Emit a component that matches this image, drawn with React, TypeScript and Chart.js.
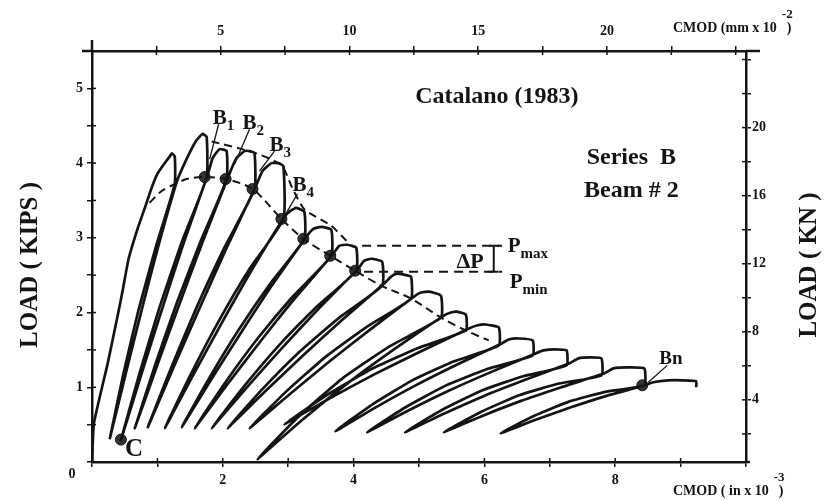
import { useEffect, useRef } from "react";
import { Chart, registerables } from "chart.js";

Chart.register(...registerables);

type Pt = [number, number];

// ---- axis tick labels ----
const inchTickLabels = [2, 4, 6, 8]; // CMOD (in x 10^-3), bottom
const mmTickLabels = [5, 10, 15, 20]; // CMOD (mm x 10^-2), top
const kipTickLabels = [1, 2, 3, 4, 5]; // LOAD (KIPS), left
const knTickLabels = [4, 8, 12, 16, 20]; // LOAD (KN), right

// ---- load–CMOD record (x: CMOD in x10^-3, y: load kips) ----
const initialLoading: Pt[] = [
  [0, 0], [0.03, 0.52], [0.24, 1.32], [0.4, 1.99], [0.47, 2.3], [0.56, 2.72], [0.7, 3.13],
  [0.8, 3.38], [0.9, 3.64], [0.99, 3.84], [1.08, 3.96], [1.19, 4.09], [1.22, 4.13],
  [1.265, 4.09], [1.265, 3.72],
];
const cycle01: Pt[] = [
  [0.976, 2.88], [0.71, 2.03], [0.48, 1.18], [0.274, 0.32],
  [0.512, 1.17], [0.755, 2.02], [1.008, 2.87], [1.296, 3.75],
  [1.433, 4.03], [1.585, 4.29], [1.69, 4.39], [1.753, 4.35], [1.753, 3.81],
];
const cycle02: Pt[] = [
  [1.373, 2.945], [1.032, 2.069], [0.726, 1.185], [0.442, 0.293],
  [0.756, 1.176], [1.075, 2.057], [1.404, 2.936], [1.768, 3.84],
  [1.845, 4.067], [1.951, 4.187], [2.058, 4.16], [2.058, 3.787],
];
const cycle03: Pt[] = [
  [1.667, 2.966], [1.3, 2.138], [0.966, 1.3], [0.655, 0.453],
  [0.996, 1.29], [1.342, 2.125], [1.697, 2.957], [2.088, 3.827],
  [2.21, 4.067], [2.332, 4.16], [2.409, 4.16], [2.485, 4.133], [2.485, 3.653],
];
const cycle04: Pt[] = [
  [2.026, 2.872], [1.606, 2.082], [1.218, 1.279], [0.854, 0.467],
  [1.248, 1.267], [1.648, 2.065], [2.056, 2.861], [2.5, 3.68],
  [2.607, 3.893], [2.744, 4.0], [2.851, 4.0], [2.927, 3.96], [2.927, 3.253],
];
const cycle05: Pt[] = [
  [2.403, 2.576], [1.938, 1.886], [1.512, 1.176], [1.113, 0.453],
  [1.545, 1.16], [1.985, 1.863], [2.436, 2.56], [2.942, 3.28],
  [3.034, 3.36], [3.125, 3.4], [3.247, 3.347], [3.247, 2.987],
];
const cycle06: Pt[] = [
  [2.721, 2.382], [2.238, 1.763], [1.792, 1.122], [1.372, 0.467],
  [1.823, 1.104], [2.283, 1.737], [2.753, 2.364], [3.277, 3.013],
  [3.384, 3.12], [3.506, 3.147], [3.659, 3.107], [3.659, 2.76],
];
const cycle07: Pt[] = [
  [3.074, 2.218], [2.535, 1.656], [2.038, 1.065], [1.57, 0.453],
  [2.072, 1.042], [2.583, 1.623], [3.108, 2.195], [3.689, 2.787],
  [3.78, 2.893], [3.902, 2.907], [4.04, 2.867], [4.04, 2.56],
];
const cycle08: Pt[] = [
  [3.428, 2.071], [2.859, 1.561], [2.33, 1.018], [1.829, 0.453],
  [2.362, 0.993], [2.904, 1.525], [3.46, 2.046], [4.07, 2.587],
  [4.162, 2.693], [4.268, 2.72], [4.436, 2.68], [4.436, 2.36],
];
const cycle09: Pt[] = [
  [3.782, 1.932], [3.174, 1.475], [2.609, 0.978], [2.073, 0.453],
  [2.645, 0.944], [3.226, 1.426], [3.819, 1.897], [4.466, 2.387],
  [4.573, 2.48], [4.665, 2.52], [4.771, 2.507], [4.878, 2.48], [4.878, 2.187],
];
const cycle10: Pt[] = [
  [4.207, 1.812], [3.567, 1.403], [2.972, 0.945], [2.409, 0.453],
  [3.013, 0.901], [3.624, 1.341], [4.247, 1.768], [4.924, 2.213],
  [5.03, 2.267], [5.152, 2.28], [5.335, 2.227], [5.335, 1.933],
];
const cycle11: Pt[] = [
  [4.555, 1.55], [3.821, 1.113], [3.153, 0.603], [2.53, 0.04],
  [3.199, 0.551], [3.886, 1.039], [4.601, 1.497], [5.381, 1.96],
  [5.488, 2.0], [5.579, 2.013], [5.716, 1.973], [5.716, 1.76],
];
const cycle12: Pt[] = [
  [4.978, 1.522], [4.266, 1.24], [3.591, 0.895], [2.942, 0.507],
  [3.621, 0.845], [4.308, 1.169], [5.008, 1.472], [5.762, 1.787],
  [5.884, 1.827], [6.021, 1.84], [6.22, 1.8], [6.22, 1.56],
];
const cycle13: Pt[] = [
  [5.538, 1.348], [4.898, 1.093], [4.295, 0.775], [3.72, 0.413],
  [4.326, 0.725], [4.941, 1.022], [5.568, 1.298], [6.265, 1.587],
  [6.372, 1.64], [6.524, 1.653], [6.738, 1.627], [6.738, 1.427],
];
const cycle14: Pt[] = [
  [6.053, 1.247], [5.407, 1.022], [4.795, 0.733], [4.207, 0.4],
  [4.822, 0.682], [5.446, 0.95], [6.08, 1.196], [6.784, 1.453],
  [6.905, 1.493], [7.073, 1.507], [7.256, 1.493], [7.256, 1.293],
];
const cycle15: Pt[] = [
  [6.59, 1.148], [5.961, 0.957], [5.363, 0.702], [4.787, 0.4],
  [5.388, 0.649], [5.996, 0.884], [6.615, 1.096], [7.302, 1.32],
  [7.439, 1.387], [7.622, 1.4], [7.79, 1.387], [7.79, 1.16],
];
const cycle16: Pt[] = [
  [7.143, 1.05], [6.531, 0.893], [5.946, 0.67], [5.381, 0.4],
  [5.968, 0.617], [6.562, 0.818], [7.165, 0.997], [7.835, 1.187],
  [7.973, 1.253], [8.201, 1.267], [8.445, 1.253], [8.445, 1.027],
];
const cycle17: Pt[] = [
  [7.846, 0.938], [7.293, 0.808], [6.764, 0.618], [6.25, 0.387],
  [6.784, 0.565], [7.323, 0.732], [7.867, 0.885], [8.4, 1.013],
  [8.582, 1.067], [8.811, 1.093], [9.04, 1.093], [9.238, 1.08], [9.238, 1.0],
];

// envelopes (dashed)
const lowerEnvelope: Pt[] = [
  [0.88, 3.47], [1.07, 3.63], [1.27, 3.72], [1.46, 3.79], [1.723, 3.813], [2.043, 3.787],
  [2.454, 3.653], [2.896, 3.253], [3.232, 2.987], [3.643, 2.76], [4.024, 2.56],
  [4.421, 2.36], [4.878, 2.187], [5.335, 1.933], [5.716, 1.76], [6.067, 1.627],
];
const upperEnvelope: Pt[] = [
  [1.83, 4.29], [2.48, 4.14], [2.9, 3.97], [3.06, 3.67], [3.25, 3.38], [3.66, 3.16], [3.89, 2.96],
];

// marked points
const bPoints: Pt[] = [
  [1.723, 3.813], [2.043, 3.787], [2.454, 3.653], [2.896, 3.253], [3.232, 2.987], [3.643, 2.76], [4.024, 2.56],
];
const pointC: Pt[] = [[0.442, 0.3]];
const pointBn: Pt[] = [[8.415, 1.027]];

// Pmax / Pmin levels (kips) and their extent
const pMax = 2.893;
const pMin = 2.547;
const pMaxFrom = 4.13;
const pMinFrom = 4.16;
const pLevelTo = 6.27;
const deltaBarX = 6.143;

// leader lines from labels
const leaderB1: Pt[] = [[1.936, 4.52], [1.799, 4.053]];
const leaderB2: Pt[] = [[2.409, 4.453], [2.18, 3.987]];
const leaderB3: Pt[] = [[2.79, 4.16], [2.561, 3.893]];
const leaderB4: Pt[] = [[3.14, 3.587], [2.973, 3.333]];
const leaderBn: Pt[] = [[8.796, 1.293], [8.506, 1.067]];

const FONT = '"Liberation Serif", "Times New Roman", serif';
const INK = "#141414";

const toXY = (pts: Pt[]) => pts.map(([x, y]) => ({ x, y }));

type Note = { text: string; sub?: string; x: number; y: number; size: number; align?: CanvasTextAlign; base?: CanvasTextBaseline };
const notes: Note[] = [
  { text: "Catalano (1983)", x: 6.19, y: 4.893, size: 24, align: "center", base: "middle" },
  { text: "Series  B", x: 8.247, y: 4.067, size: 24, align: "center", base: "middle" },
  { text: "Beam # 2", x: 8.247, y: 3.627, size: 24, align: "center", base: "middle" },
  { text: "B", sub: "1", x: 1.845, y: 4.52, size: 21 },
  { text: "B", sub: "2", x: 2.302, y: 4.453, size: 21 },
  { text: "B", sub: "3", x: 2.713, y: 4.16, size: 21 },
  { text: "B", sub: "4", x: 3.064, y: 3.627, size: 21 },
  { text: "Bn", x: 8.674, y: 1.307, size: 19 },
  { text: "C", x: 0.503, y: 0.08, size: 25 },
  { text: "ΔP", x: 5.99, y: 2.6, size: 22, align: "right" },
  { text: "P", sub: "max", x: 6.357, y: 2.813, size: 21 },
  { text: "P", sub: "min", x: 6.387, y: 2.333, size: 21 },
];

const decor = {
  id: "decor",
  afterDraw(chart: any) {
    const ctx: CanvasRenderingContext2D = chart.ctx;
    const { x, y, x2, y2 } = chart.scales;
    const a = chart.chartArea;
    ctx.save();
    ctx.strokeStyle = INK;
    ctx.fillStyle = INK;
    // inward tick marks (ticks cross the axes)
    ctx.lineWidth = 1.5;
    const seg = (x0: number, y0: number, x1: number, y1: number) => {
      ctx.beginPath();
      ctx.moveTo(x0, y0);
      ctx.lineTo(x1, y1);
      ctx.stroke();
    };
    for (const t of x.ticks) { const p = x.getPixelForValue(t.value); seg(p, a.bottom, p, a.bottom - 4); }
    for (const t of x2.ticks) { const p = x2.getPixelForValue(t.value); seg(p, a.top, p, a.top + 4); }
    for (const t of y.ticks) { const p = y.getPixelForValue(t.value); seg(a.left, p, a.left + 4, p); }
    for (const t of y2.ticks) { const p = y2.getPixelForValue(t.value); seg(a.right, p, a.right - 4, p); }
    // axis overhangs
    ctx.lineWidth = 2.5;
    seg(a.left - 10, a.top, a.left, a.top);
    seg(a.right, a.top, a.right + 14, a.top);
    seg(a.left, a.top - 11, a.left, a.top);
    seg(a.right, a.bottom, a.right + 4, a.bottom);

    // notes in data coordinates
    for (const n of notes) {
      const px = x.getPixelForValue(n.x);
      const py = y.getPixelForValue(n.y);
      ctx.font = `bold ${n.size}px ${FONT}`;
      ctx.textAlign = n.align || "left";
      ctx.textBaseline = n.base || "alphabetic";
      ctx.fillText(n.text, px, py);
      if (n.sub) {
        const w = ctx.measureText(n.text).width;
        ctx.font = `bold ${Math.round(n.size * 0.72)}px ${FONT}`;
        ctx.textAlign = "left";
        ctx.fillText(n.sub, px + w, py + n.size * 0.28);
      }
    }

    // corner zero
    ctx.font = `bold 14px ${FONT}`;
    ctx.textAlign = "center";
    ctx.textBaseline = "middle";
    ctx.fillText("0", a.left - 20, a.bottom + 12);

    // axis titles
    ctx.font = `bold 25px ${FONT}`;
    ctx.textAlign = "center";
    ctx.textBaseline = "middle";
    ctx.save();
    ctx.translate(31, 265);
    ctx.rotate(-Math.PI / 2);
    ctx.fillText("LOAD ( KIPS )", 0, 0);
    ctx.restore();
    ctx.save();
    ctx.translate(810, 265);
    ctx.rotate(-Math.PI / 2);
    ctx.fillText("LOAD ( KN )", 0, 0);
    ctx.restore();

    const cmod = (main: string, sup: string, left: number, base: number) => {
      ctx.font = `bold 14px ${FONT}`;
      ctx.textAlign = "left";
      ctx.textBaseline = "alphabetic";
      ctx.fillText(main, left, base);
      const w = ctx.measureText(main).width;
      ctx.fillText(")", left + w + 10, base);
      ctx.font = `bold 13px ${FONT}`;
      ctx.fillText(sup, left + w + 5, base - 14);
    };
    cmod("CMOD (mm x 10", "-2", 673, 32);
    cmod("CMOD ( in x 10", "-3", 673, 495);
    ctx.restore();
  },
};

export default function App() {
  const ref = useRef<HTMLCanvasElement | null>(null);
  useEffect(() => {
    if (!ref.current) return;
    const record: Pt[] = [
      ...initialLoading, ...cycle01, ...cycle02, ...cycle03, ...cycle04, ...cycle05, ...cycle06,
      ...cycle07, ...cycle08, ...cycle09, ...cycle10, ...cycle11, ...cycle12, ...cycle13,
      ...cycle14, ...cycle15, ...cycle16, ...cycle17,
    ];
    const capW = 0.075;
    const deltaBar = [
      { x: deltaBarX, y: pMax }, { x: deltaBarX, y: pMin }, { x: deltaBarX, y: null },
      { x: deltaBarX - capW, y: pMax }, { x: deltaBarX + capW, y: pMax }, { x: deltaBarX + capW, y: null },
      { x: deltaBarX - capW, y: pMin }, { x: deltaBarX + capW, y: pMin },
    ];
    const line = (data: any[], extra: any = {}) => ({
      data, showLine: true, borderColor: INK, backgroundColor: INK, pointRadius: 0,
      borderWidth: 2.6, tension: 0.15, spanGaps: false, ...extra,
    });
    const leaders = [leaderB1, leaderB2, leaderB3, leaderB4, leaderBn].map((l) =>
      line(toXY(l), { borderWidth: 1.3, tension: 0 }));
    const axisFont = { family: FONT, size: 14, weight: "bold" as const };
    const chart = new Chart(ref.current, {
      type: "scatter",
      data: {
        datasets: [
          line(toXY(record), { borderWidth: 2.7 }),
          line(toXY(lowerEnvelope), { borderDash: [8, 5], borderWidth: 2, tension: 0.3 }),
          line(toXY(upperEnvelope), { borderDash: [8, 5], borderWidth: 2, tension: 0.2 }),
          line([{ x: pMaxFrom, y: pMax }, { x: pLevelTo, y: pMax }], { borderDash: [9, 6], borderWidth: 2, tension: 0 }),
          line([{ x: pMinFrom, y: pMin }, { x: pLevelTo, y: pMin }], { borderDash: [9, 6], borderWidth: 2, tension: 0 }),
          line(deltaBar, { borderWidth: 2, tension: 0 }),
          ...leaders,
          { data: toXY([...bPoints, ...pointC, ...pointBn]), showLine: false, pointRadius: 5.5, pointBackgroundColor: "#333", pointBorderColor: INK, pointBorderWidth: 1 },
        ] as any,
      },
      options: {
        animation: false,
        responsive: false,
        devicePixelRatio: 1,
        layout: { padding: 0 },
        plugins: { legend: { display: false }, tooltip: { enabled: false } },
        scales: {
          x: {
            type: "linear", position: "bottom", min: 0, max: 10,
            afterFit: (s: any) => { s.height = 39; },
            grid: { drawOnChartArea: false, tickLength: 5, color: INK, lineWidth: 1.5 },
            border: { color: INK, width: 2.5 },
            ticks: { stepSize: 1, padding: 5, color: INK, font: axisFont, maxRotation: 0, autoSkip: false,
              callback: (v: any) => (inchTickLabels.includes(Number(v)) ? String(v) : "") },
          },
          x2: {
            type: "linear", position: "top", min: 0, max: 25.4,
            afterFit: (s: any) => { s.height = 51; },
            grid: { drawOnChartArea: false, tickLength: 5, color: INK, lineWidth: 1.5 },
            border: { color: INK, width: 2.5 },
            ticks: { stepSize: 2.5, includeBounds: false, padding: 6, color: INK, font: axisFont, maxRotation: 0, autoSkip: false,
              callback: (v: any) => (mmTickLabels.includes(Number(v)) ? String(v) : "") },
          },
          y: {
            type: "linear", position: "left", min: 0, max: 5.5,
            afterFit: (s: any) => { s.width = 92; },
            grid: { drawOnChartArea: false, tickLength: 5, color: INK, lineWidth: 1.5 },
            border: { color: INK, width: 2.5 },
            ticks: { stepSize: 0.5, padding: 4, color: INK, font: axisFont, autoSkip: false,
              callback: (v: any) => (kipTickLabels.includes(Number(v)) ? String(v) : "") },
          },
          y2: {
            type: "linear", position: "right", min: 0.35, max: 24.5,
            afterFit: (s: any) => { s.width = 83; },
            grid: { drawOnChartArea: false, tickLength: 5, color: INK, lineWidth: 1.5 },
            border: { color: INK, width: 2.5 },
            ticks: { stepSize: 2, includeBounds: false, padding: 1, color: INK, font: axisFont, autoSkip: false,
              callback: (v: any) => (knTickLabels.includes(Number(v)) ? String(v) : "") },
          },
        },
      } as any,
      plugins: [decor],
    });
    return () => chart.destroy();
  }, []);
  return (
    <div style={{ position: "fixed", left: 0, top: 0, width: 829, height: 501, background: "#fff" }}>
      <canvas ref={ref} width={829} height={501} style={{ width: 829, height: 501, display: "block" }} />
    </div>
  );
}
